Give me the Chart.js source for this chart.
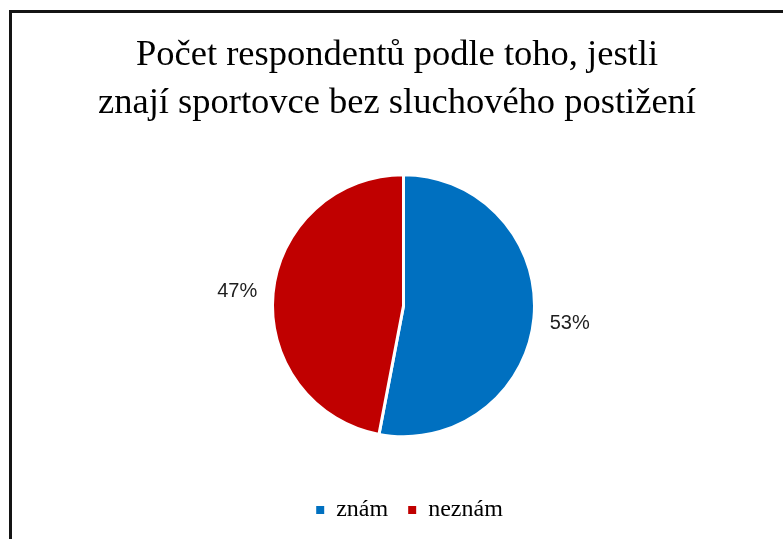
<!DOCTYPE html>
<html>
<head>
<meta charset="utf-8">
<script src="https://cdn.jsdelivr.net/npm/chart.js@4/dist/chart.umd.min.js"></script>
<style>
  html, body { margin: 0; padding: 0; background: #fff; overflow: hidden; }
  #wrap { position: relative; width: 783px; height: 539px; }
  #frame { position: absolute; left: 9px; top: 10px; width: 900px; height: 700px;
           border-left: 3px solid #141414; border-top: 3px solid #141414; box-sizing: border-box; }
  canvas { position: absolute; left: 0; top: 0; }
</style>
</head>
<body>
<div id="wrap">
  <div id="frame"></div>
  <canvas id="c" width="783" height="539"></canvas>
</div>
<script>
const titleLines = ['Počet respondentů podle toho, jestli', 'znají sportovce bez sluchového postižení'];
const categories = ['znám', 'neznám'];
const values = [53, 47];
const percentLabels = ['53%', '47%'];
const colors = ['#0070C0', '#C00000'];

const shiftPlugin = {
  id: 'shiftPlugin',
  afterLayout(chart) {
    const t = chart.titleBlock;
    if (t) { t.left = 11; t.right = chart.width; t.width = chart.width - 11; }
    const a = chart.chartArea;
    a.left -= 6; a.right -= 6;
  }
};

const labelPlugin = {
  id: 'outLabels',
  afterDatasetsDraw(chart) {
    const ctx = chart.ctx;
    const meta = chart.getDatasetMeta(0);
    ctx.save();
    ctx.font = '20px "Liberation Sans", Arial, sans-serif';
    ctx.fillStyle = '#1e1e1e';
    ctx.textAlign = 'center';
    ctx.textBaseline = 'middle';
    meta.data.forEach((arc, i) => {
      const p = arc.getProps(['x', 'y', 'startAngle', 'endAngle', 'outerRadius'], true);
      const mid = (p.startAngle + p.endAngle) / 2;
      const r = p.outerRadius + 36;
      ctx.fillText(percentLabels[i], p.x + Math.cos(mid) * r, p.y + Math.sin(mid) * r + 2);
    });
    ctx.restore();
  }
};

new Chart(document.getElementById('c'), {
  type: 'pie',
  data: {
    labels: categories,
    datasets: [{
      data: values,
      backgroundColor: colors,
      borderColor: '#ffffff',
      borderWidth: 3,
      radius: 131
    }]
  },
  options: {
    responsive: false,
    animation: false,
    layout: { padding: { left: 36, right: 0, top: 0, bottom: 7 } },
    plugins: {
      title: {
        display: true,
        text: titleLines,
        color: '#000000',
        font: { family: '"Liberation Serif", "Times New Roman", serif', size: 36.5, weight: 'normal', lineHeight: 1.3 },
        padding: { top: 31.75, bottom: 6.75 }
      },
      legend: {
        display: true,
        position: 'bottom',
        labels: {
          boxWidth: 8,
          boxHeight: 8,
          padding: 20,
          color: '#000000',
          font: { family: '"Liberation Serif", "Times New Roman", serif', size: 24 },
          generateLabels(chart) {
            const base = Chart.overrides.pie.plugins.legend.labels.generateLabels(chart);
            return base.map(l => Object.assign(l, { lineWidth: 0, strokeStyle: l.fillStyle }));
          }
        }
      },
      tooltip: { enabled: false }
    }
  },
  plugins: [shiftPlugin, labelPlugin]
});
</script>
</body>
</html>
